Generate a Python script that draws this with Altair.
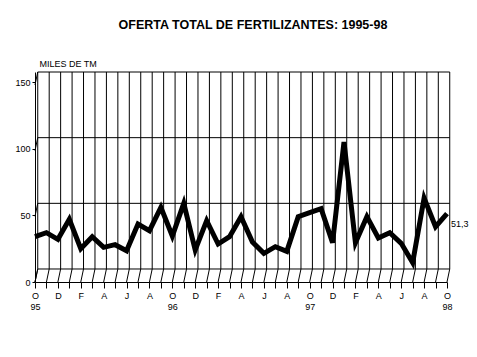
import altair as alt
import pandas as pd
import json

# Monthly supply, Oct 1995 .. Oct 1998 (thousand tonnes)
values = [34, 37, 32, 47, 25, 34, 26, 28, 23.5, 43.5, 38.5, 56, 34.5, 59, 24, 46,
          28.5, 34, 49, 30, 21.5, 26.5, 23, 49, 52, 55, 29.5, 105, 29.5, 49, 33,
          37, 29, 14.5, 63, 41.5, 51.3]
month_letters = ["E", "F", "M", "A", "M", "J", "J", "A", "S", "O", "N", "D"]
year_labels = ["95", "96", "97", "98"]
first_month = 10  # October
y_ticks = [0, 50, 100, 150]

DEPTH = 9.9      # 3D depth offset in value units
SHIFT = 0.24     # 3D horizontal shift in months

n = len(values)
df = pd.DataFrame({"i": list(range(n)), "v": values})

label_map = {}
for i in range(n):
    m = (first_month - 1 + i) % 12
    if i % 2 == 0:
        lab = month_letters[m]
        if m == first_month - 1 and (i // 12) < len(year_labels):
            label_map[i] = [lab, year_labels[i // 12]]
        else:
            label_map[i] = lab
label_expr = "(" + json.dumps({str(k): v for k, v in label_map.items()}) + ")[''+datum.value] || ''"

FONT = "Liberation Sans"

front_scale = alt.Scale(domain=[0, 157.5], nice=False, zero=False)
back_scale = alt.Scale(domain=[-DEPTH, 150], nice=False, zero=False)
x_scale = alt.Scale(domain=[0, n - 1], nice=False, zero=False)
x_axis = alt.Axis(values=list(range(n)), labelExpr=label_expr, title=None,
                  grid=False, domainColor="black", tickColor="black",
                  tickSize=6, labelFont=FONT, labelFontSize=9, labelColor="black",
                  labelPadding=3, labelLineHeight=11, labelFlush=False,
                  labelOverlap=False, labelBaseline="top", labelAngle=0)

grid_h = pd.DataFrame({"g": y_ticks, "x0": [SHIFT] * 4, "x1": [n - 1 + SHIFT] * 4})
grid_v = pd.DataFrame({"xs": [i + SHIFT for i in range(n)], "y0": [0] * n, "y1": [150] * n})
floor = pd.DataFrame({"xa": list(range(n)), "xb": [i + SHIFT for i in range(n)],
                      "ya": [-DEPTH] * n, "yb": [0] * n})
side = pd.DataFrame({"xa": [0] * 4, "xb": [SHIFT] * 4,
                     "ya": [t - DEPTH for t in y_ticks], "yb": y_ticks})

hgrid = alt.Chart(grid_h).mark_rule(color="black", strokeWidth=1).encode(
    x=alt.X("x0:Q", scale=x_scale, axis=x_axis),
    x2="x1:Q",
    y=alt.Y("g:Q", scale=back_scale, axis=None),
)
vgrid = alt.Chart(grid_v).mark_rule(color="black", strokeWidth=1).encode(
    x=alt.X("xs:Q", scale=x_scale, axis=x_axis),
    y=alt.Y("y0:Q", scale=back_scale, axis=None),
    y2="y1:Q",
)
floor_t = alt.Chart(floor).mark_rule(color="black", strokeWidth=1).encode(
    x=alt.X("xa:Q", scale=x_scale, axis=x_axis),
    x2="xb:Q",
    y=alt.Y("ya:Q", scale=back_scale, axis=None),
    y2="yb:Q",
)
side_t = alt.Chart(side).mark_rule(color="black", strokeWidth=1).encode(
    x=alt.X("xa:Q", scale=x_scale, axis=x_axis),
    x2="xb:Q",
    y=alt.Y("ya:Q", scale=back_scale, axis=None),
    y2="yb:Q",
)
back = alt.layer(hgrid, vgrid, floor_t, side_t)

line = alt.Chart(df).mark_line(color="black", strokeWidth=5, strokeJoin="miter").encode(
    x=alt.X("i:Q", scale=x_scale, axis=x_axis),
    y=alt.Y("v:Q", scale=front_scale,
            axis=alt.Axis(values=y_ticks, title="MILES DE TM", titleAngle=0,
                          titleX=4, titleY=-4, titleAlign="left", titleBaseline="bottom",
                          titleFont=FONT, titleFontSize=9, titleFontWeight="normal",
                          titleColor="black", grid=False, domainColor="black",
                          tickColor="black", tickSize=3, labelFont=FONT, labelFontSize=9,
                          labelColor="black", labelPadding=2)),
)

last = df.iloc[[-1]].copy()
last["lab"] = [f"{values[-1]:.1f}".replace(".", ",")]
ann = alt.Chart(last).mark_text(align="left", baseline="middle", dx=4, dy=10,
                                font=FONT, fontSize=9, color="black").encode(
    x=alt.X("i:Q", scale=x_scale, axis=x_axis),
    y=alt.Y("v:Q", scale=front_scale),
    text="lab:N",
)

front = alt.layer(line, ann)

chart = alt.layer(back, front).resolve_scale(y="independent").properties(
    width=412,
    height=210,
    padding={"left": 35, "top": 72, "right": 30, "bottom": 75},
    autosize=alt.AutoSizeParams(type="none"),
    title=alt.TitleParams("OFERTA TOTAL DE FERTILIZANTES: 1995-98", font=FONT,
                          fontSize=12.5, fontWeight="bold", color="black",
                          anchor="middle", dx=12, offset=28),
    background="white",
).configure_view(stroke=None)

chart.save("out.html", embed_options={"renderer": "svg", "actions": False})
